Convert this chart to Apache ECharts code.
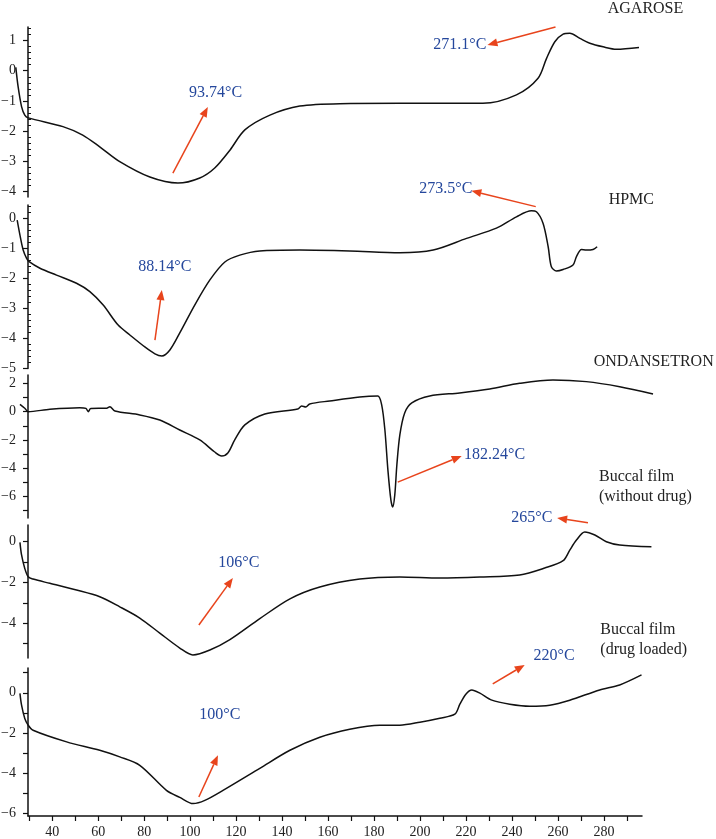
<!DOCTYPE html>
<html><head><meta charset="utf-8">
<script src="https://cdn.jsdelivr.net/npm/echarts@6/dist/echarts.min.js"></script>
<style>html,body{margin:0;padding:0;background:#fff}#c{width:716px;height:839px}</style>
</head><body><div id="c"></div>
<script>
// ---- data (temperature °C, heat flow) ----
const agaroseT  = [24.2,25.2,26.7,28.1,29.6,44.7,53.3,60.7,69.4,82.5,94.7,104.2,110.7,117.3,123.8,134.7,147.7,165.1,191.2,227.3,241.9,251.3,255,258.6,262.2,265.1,269.5,273.8,279.6,285.4,295.2];
const agaroseHF = [0.11,-0.53,-1.19,-1.47,-1.56,-1.85,-2.13,-2.52,-3.01,-3.52,-3.72,-3.55,-3.22,-2.63,-1.96,-1.47,-1.17,-1.09,-1.08,-1.08,-0.8,-0.25,0.41,0.96,1.21,1.24,1.07,0.91,0.79,0.71,0.77];

const hpmcT  = [24.8,26,27.4,28.9,30,34.7,41.9,50.6,56.4,62.2,68.7,73.8,80.3,84.7,87.7,91.2,95.5,102,108.6,115.1,121.6,130.3,147.7,169.4,191.2,205.7,220.2,233.2,241.9,248.4,250.6,253.5,255.7,257.1,259.3,262.2,266.5,268,270.2,272.3,275.2,277];
const hpmcHF = [-0.06,-0.56,-1.06,-1.34,-1.45,-1.67,-1.9,-2.17,-2.45,-2.9,-3.57,-3.9,-4.3,-4.53,-4.6,-4.4,-3.83,-2.9,-2.06,-1.46,-1.23,-1.09,-1.06,-1.09,-1.15,-1.06,-0.67,-0.33,0.05,0.25,0.22,-0.17,-0.95,-1.62,-1.76,-1.71,-1.56,-1.28,-1.04,-1.06,-1.04,-0.95];

const ondT  = [26,28.1,29.6,39,52,54.7,55.7,56.8,63.7,65.1,67.3,78.1,86.8,95.5,104.2,110.7,113.7,116.4,119.4,123.8,132.5,146.8,148.5,150.3,152,160.7,173.8,181.6,183.3,184.7,186,187.3,188.1,189,189.9,191.2,193.3,196.4,204.2,217.2,230.3,243.3,257.8,272.3,286.8,301.3];
const ondHF = [0.52,0.24,0,0.17,0.28,0.23,0,0.23,0.24,0.35,0.05,-0.23,-0.59,-1.3,-2.0,-2.86,-3.14,-2.93,-2.0,-0.94,-0.16,0.19,0.4,0.33,0.55,0.76,1.04,1.11,0.48,-1.3,-4.13,-6.26,-6.76,-5.9,-3.78,-1.65,-0.09,0.62,1.11,1.33,1.61,2.01,2.25,2.13,1.77,1.26];

const noDrugT  = [26,26.7,28.1,29.6,31.7,39,50.6,60.7,69.4,78.1,86.8,95.5,101.2,108.6,117.3,130.3,143.4,156.4,173.8,191.2,208.6,226,243.3,254.2,262.2,265.1,268,271.6,276,281,286.8,300.6];
const noDrugHF = [-0.03,-0.65,-1.31,-1.72,-1.83,-2.04,-2.37,-2.7,-3.19,-3.74,-4.48,-5.21,-5.55,-5.31,-4.8,-3.77,-2.8,-2.22,-1.83,-1.73,-1.78,-1.73,-1.63,-1.29,-0.93,-0.41,0.08,0.48,0.33,0,-0.16,-0.25];

const loadedT  = [26,26.7,28.1,29.6,31.7,46.3,60.7,69.4,78.1,89.7,95.5,101.3,106.4,114.3,130.3,143.4,156.4,169.4,182.5,191.2,199.9,208.6,215.1,217.3,219.9,222.5,226,231.2,239,247.7,256.4,265.1,278.1,286.8,296.3];
const loadedHF = [-0.03,-0.62,-1.28,-1.62,-1.87,-2.45,-2.87,-3.2,-3.62,-4.87,-5.22,-5.53,-5.37,-4.87,-3.77,-2.87,-2.22,-1.82,-1.62,-1.62,-1.47,-1.27,-1.07,-0.57,-0.07,0.14,-0.02,-0.37,-0.57,-0.67,-0.62,-0.37,0.14,0.39,0.89];

// ---- tick labels ----
const xTickValues  = [30,40,50,60,70,80,90,100,110,120,130,140,150,160,170,180,190,200,210,220,230,240,250,260,270,280,290];
const xLabelValues = [40,60,80,100,120,140,160,180,200,220,240,260,280];
const agaroseYLabels = [1,0,-1,-2,-3,-4];
const hpmcYLabels    = [0,-1,-2,-3,-4,-5];
const ondYLabels     = [2,0,-2,-4,-6];
const ondYTicks      = [2,1,0,-1,-2,-3,-4,-5,-6,-7];
const noDrugYLabels  = [0,-2,-4];
const noDrugYTicks   = [0,-1,-2,-3,-4,-5];
const loadedYLabels  = [0,-2,-4,-6];
const loadedYTicks   = [1,0,-1,-2,-3,-4,-5,-6];
function minorTicks(lo, hi){ const r=[]; for(let k=Math.round(lo*5);k<=Math.round(hi*5);k++){ if(k%5!==0) r.push(+(k/5).toFixed(1)); } return r; }

// ---- annotations ----
const panelNames = ['AGAROSE','HPMC','ONDANSETRON','Buccal film\n(without drug)','Buccal film\n(drug loaded)'];
const panelNameAt = [[281.6,2.05],[282,0.61],[275.5,3.55],[277.8,2.71],[278.4,2.64]];
const annotPanel = [0,0,1,1,2,3,3,4,4];
const annotText  = ['93.74°C','271.1°C','273.5°C','88.14°C','182.24°C','106°C','265°C','100°C','220°C'];
const annotTextAt = [[111.1,-0.74],[217.3,0.85],[211.2,1.0],[89,-1.63],[232.4,-3.07],[121.2,-1.05],[248.6,1.16],[112.9,-1.11],[258.3,1.84]];
const arrowFrom = [[92.5,-3.39],[258.9,1.45],[250.3,0.39],[84.7,-4.07],[190.3,-5.0],[103.8,-4.08],[273,0.93],[103.8,-5.2],[231.6,0.44]];
const arrowTo   = [[107.7,-1.2],[229.3,0.85],[222.3,0.92],[87.7,-2.4],[218.1,-3.14],[118.6,-1.78],[259.6,1.16],[112.1,-3.12],[245.5,1.39]];

// ---- layout ----
const FONT = '"Liberation Serif","DejaVu Serif",serif';
const K = 2.2996;                 // px per °C
const AX_MIN = 29.5, AX_MAX = 296.5, AX_LEFT = 28;
const DATA_MIN = 23, DATA_MAX = 303;
const AX_RIGHT = 716 - AX_LEFT - (AX_MAX-AX_MIN)*K;
const DATA_LEFT = AX_LEFT - (AX_MIN-DATA_MIN)*K;
const DATA_RIGHT = 716 - DATA_LEFT - (DATA_MAX-DATA_MIN)*K;
const gridBoxes = [[27,170],[205,163.5],[375,143],[525,133],[668,148]];
const yRanges = [[-4.18,1.447],[-5.02,0.445],[-7.54,2.6],[-5.7,0.82],[-6.15,1.235]];
const panels = [
  {T:agaroseT,HF:agaroseHF,labels:agaroseYLabels,ticks:agaroseYLabels,minor:minorTicks(-4,1.4)},
  {T:hpmcT,HF:hpmcHF,labels:hpmcYLabels,ticks:hpmcYLabels,minor:minorTicks(-5,0.4)},
  {T:ondT,HF:ondHF,labels:ondYLabels,ticks:ondYTicks},
  {T:noDrugT,HF:noDrugHF,labels:noDrugYLabels,ticks:noDrugYTicks},
  {T:loadedT,HF:loadedHF,labels:loadedYLabels,ticks:loadedYTicks}
];
const N = panels.length;
const grids=[], xAxes=[], yAxes=[], series=[];
// data grids (hidden axes, wide enough to hold every point)
panels.forEach((p,i)=>{
  grids.push({left:DATA_LEFT, right:DATA_RIGHT, top:gridBoxes[i][0], height:gridBoxes[i][1], outerBoundsMode:'none', containLabel:false});
  xAxes.push({gridIndex:i, type:'value', min:DATA_MIN, max:DATA_MAX, show:false});
  yAxes.push({gridIndex:i, type:'value', min:yRanges[i][0], max:yRanges[i][1], show:false});
  series.push({
    type:'line', xAxisIndex:i, yAxisIndex:i, data:p.T.map((t,k)=>[t,p.HF[k]]),
    symbol:'none', smooth:0.3, clip:false, silent:true,
    lineStyle:{color:'#111', width:1.5}
  });
});
// axis grids (visible axes)
panels.forEach((p,i)=>{
  const g = N+i;
  grids.push({left:AX_LEFT, right:AX_RIGHT, top:gridBoxes[i][0], height:gridBoxes[i][1], outerBoundsMode:'none', containLabel:false});
  xAxes.push({
    gridIndex:g, type:'value', min:AX_MIN, max:AX_MAX, show:i===N-1,
    axisLine:{show:true, onZero:false, lineStyle:{color:'#111', width:1.5}},
    axisTick:{show:true, customValues:xTickValues, length:5, lineStyle:{color:'#111', width:1.2}},
    axisLabel:{show:true, customValues:xLabelValues, fontFamily:FONT, fontSize:14, color:'#222', margin:9},
    splitLine:{show:false}
  });
  yAxes.push({
    gridIndex:g, type:'value', min:yRanges[i][0], max:yRanges[i][1], position:'left',
    axisLine:{show:true, onZero:false, lineStyle:{color:'#111', width:1.5}},
    axisTick:{show:true, customValues:p.ticks, length:5, lineStyle:{color:'#111', width:1.2}},
    axisLabel:{show:true, customValues:p.labels, fontFamily:FONT, fontSize:14, color:'#222', margin:12,
      formatter:v=>String(v).replace('-','\u2212')},
    splitLine:{show:false}
  });
  if(p.minor){
    yAxes.push({
      gridIndex:g, type:'value', min:yRanges[i][0], max:yRanges[i][1], position:'left',
      axisLine:{show:false},
      axisTick:{show:true, inside:true, customValues:p.minor, length:3, lineStyle:{color:'#111', width:1}},
      axisLabel:{show:false}, splitLine:{show:false}
    });
  }
});

const chart = echarts.init(document.getElementById('c'), null, {renderer:'canvas'});
chart.setOption({animation:false, backgroundColor:'#fff', grid:grids, xAxis:xAxes, yAxis:yAxes, series:series});

function px(i, pt){ return chart.convertToPixel({xAxisIndex:i, yAxisIndex:i}, pt); }
const RED = '#e8441c', BLUE = '#24479c';
const gfx = [];
annotText.forEach((txt,k)=>{
  const i = annotPanel[k];
  const a = px(i, arrowFrom[k]), b = px(i, arrowTo[k]);
  const dx=b[0]-a[0], dy=b[1]-a[1], L=Math.hypot(dx,dy), ux=dx/L, uy=dy/L, nx=-uy, ny=ux;
  const HL=10, HW=4;
  const bx=b[0]-ux*HL, by=b[1]-uy*HL;
  gfx.push({type:'line', silent:true, shape:{x1:a[0],y1:a[1],x2:bx,y2:by}, style:{stroke:RED, lineWidth:1.5}});
  gfx.push({type:'polygon', silent:true, shape:{points:[[b[0],b[1]],[bx+nx*HW,by+ny*HW],[bx-nx*HW,by-ny*HW]]}, style:{fill:RED}});
  const t = px(i, annotTextAt[k]);
  gfx.push({type:'text', silent:true, x:t[0], y:t[1], style:{text:txt, fill:BLUE, font:'16px '+FONT, align:'center', verticalAlign:'middle', textAlign:'center', textVerticalAlign:'middle'}});
});
panelNames.forEach((nm,i)=>{
  const t = px(i, panelNameAt[i]);
  gfx.push({type:'text', silent:true, x:t[0], y:t[1], style:{text:nm, fill:'#222', font:'16px '+FONT, lineHeight:20, align:'left', verticalAlign:'middle', textAlign:'left', textVerticalAlign:'middle'}});
});
chart.setOption({graphic:gfx});
</script></body></html>
